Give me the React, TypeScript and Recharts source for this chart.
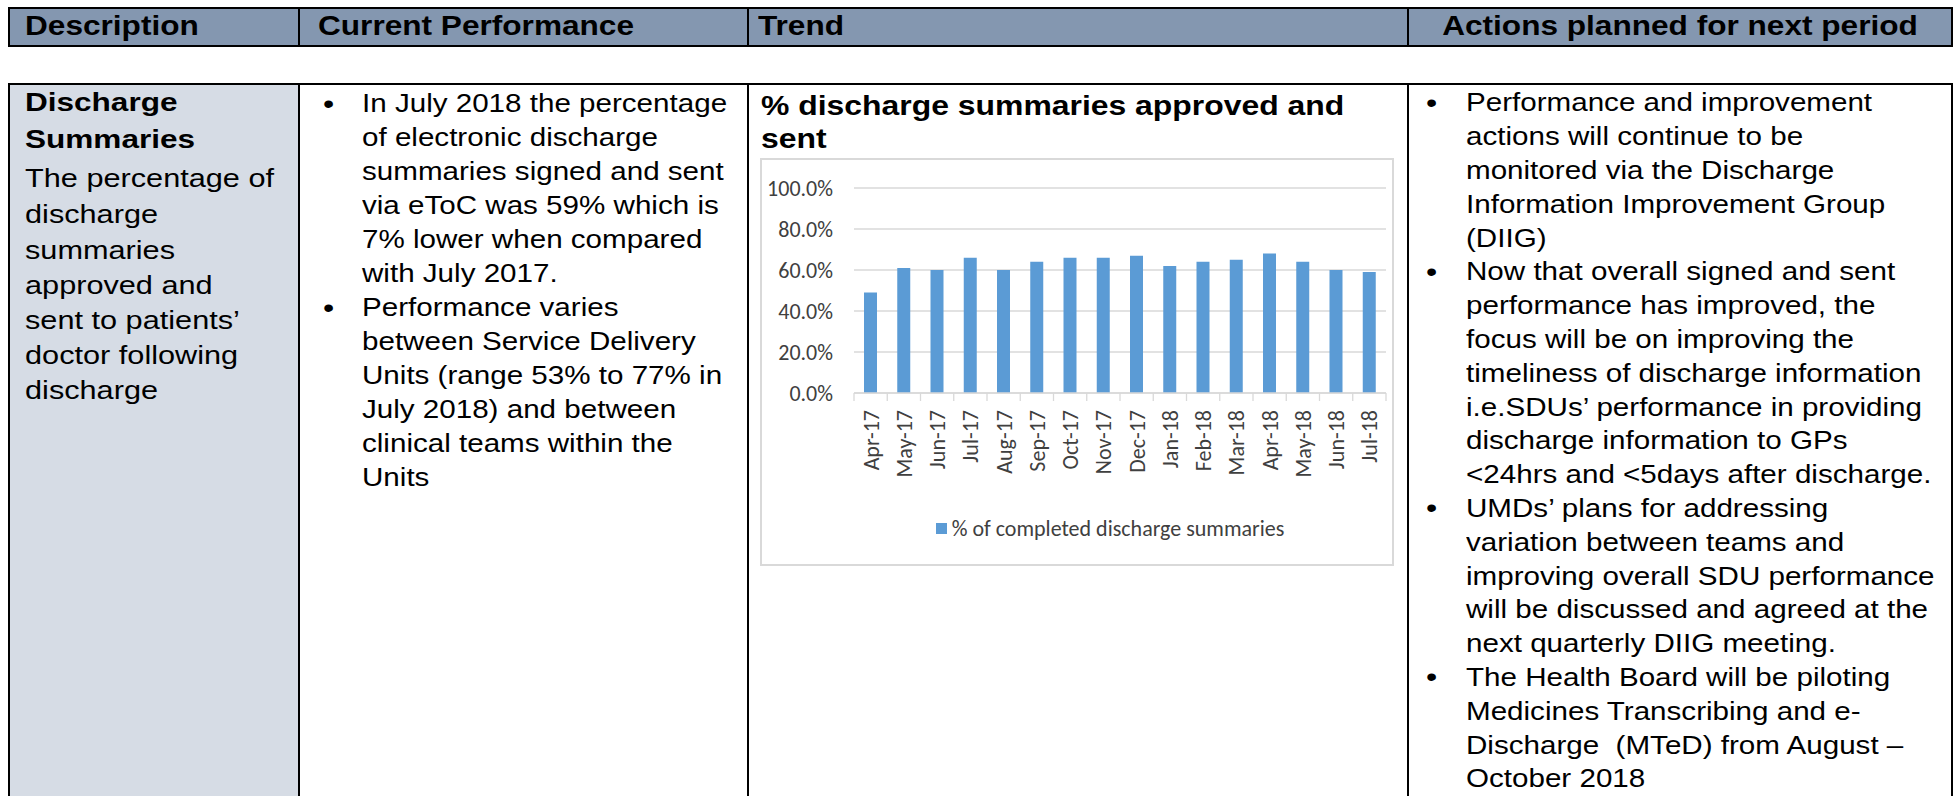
import { BarChart, Bar, XAxis, YAxis, CartesianGrid, Legend } from 'recharts'

// chart data
const months = [
  'Apr-17', 'May-17', 'Jun-17', 'Jul-17', 'Aug-17', 'Sep-17', 'Oct-17', 'Nov-17',
  'Dec-17', 'Jan-18', 'Feb-18', 'Mar-18', 'Apr-18', 'May-18', 'Jun-18', 'Jul-18',
]
const completedPct = [49, 61, 60, 66, 60, 64, 66, 66, 67, 62, 64, 65, 68, 64, 60, 59]
const yTicks = [0, 20, 40, 60, 80, 100]
const seriesName = '% of completed discharge summaries'
const chartTitle = ['% discharge summaries approved and', 'sent']

// table text
const headerLabels = ['Description', 'Current Performance', 'Trend', 'Actions planned for next period']
const descTitle = ['Discharge', 'Summaries']
const descLines = [
  'The percentage of', 'discharge', 'summaries', 'approved and',
  'sent to patients\u2019', 'doctor following', 'discharge',
]
const perfBullets = [
  ['In July 2018 the percentage', 'of electronic discharge', 'summaries signed and sent',
    'via eToC was 59% which is', '7% lower when compared', 'with July 2017.'],
  ['Performance varies', 'between Service Delivery', 'Units (range 53% to 77% in',
    'July 2018) and between', 'clinical teams within the', 'Units'],
]
const actionBullets = [
  ['Performance and improvement', 'actions will continue to be', 'monitored via the Discharge',
    'Information Improvement Group', '(DIIG)'],
  ['Now that overall signed and sent', 'performance has improved, the',
    'focus will be on improving the', 'timeliness of discharge information',
    'i.e.SDUs\u2019 performance in providing', 'discharge information to GPs',
    '<24hrs and <5days after discharge.'],
  ['UMDs\u2019 plans for addressing', 'variation between teams and',
    'improving overall SDU performance', 'will be discussed and agreed at the',
    'next quarterly DIIG meeting.'],
  ['The Health Board will be piloting', 'Medicines Transcribing and e-',
    'Discharge  (MTeD) from August \u2013', 'October 2018'],
]

const ARIAL = '"Liberation Sans", Arial, Helvetica, sans-serif'
const CHART_FONT = 'Calibri, Carlito, Lato, sans-serif'
const LINE_COLOR = '#000'
const HEADER_FILL = '#8497B0'
const DESC_FILL = '#D6DCE5'
const BAR_BLUE = '#5B9BD5'
const AXIS_GREY = '#D9D9D9'
const LABEL_GREY = '#404040'
const CHART_FS = 22

const CHART_W = 630
const CHART_H = 404
const Y_AXIS_W = 92
const MARGIN = { top: 28, right: 6, left: 0, bottom: 47 }
const band = (CHART_W - Y_AXIS_W - MARGIN.right - MARGIN.left) / months.length

const data = months.map((m, i) => ({ month: m, pct: completedPct[i] }))

type TxtProps = {
  x: number
  base: number
  size: number
  sx?: number
  bold?: boolean
  width?: number
  center?: boolean
  children: React.ReactNode
}

// one line of document text, placed by its baseline
const Txt = ({ x, base, size, sx = 1.16, bold, width, center, children }: TxtProps) => (
  <div
    style={{
      position: 'absolute',
      left: x,
      top: base - 0.847 * size,
      width,
      textAlign: center ? 'center' : 'left',
      fontFamily: ARIAL,
      fontSize: size,
      lineHeight: `${size}px`,
      fontWeight: bold ? 700 : 400,
      whiteSpace: 'pre',
      color: '#000',
      transform: `scaleX(${sx})`,
      transformOrigin: center ? 'center top' : 'left top',
    }}
  >
    {children}
  </div>
)

const Box = ({ l, t, w, h, bg }: { l: number; t: number; w: number; h: number; bg: string }) => (
  <div style={{ position: 'absolute', left: l, top: t, width: w, height: h, background: bg }} />
)

const BulletList = ({ items, bulletX, textX, firstBase, step, size }: {
  items: string[][]
  bulletX: number
  textX: number
  firstBase: number
  step: number
  size: number
}) => {
  const out: React.ReactNode[] = []
  let row = 0
  items.forEach((lines, bi) => {
    out.push(
      <Txt key={`b${bi}`} x={bulletX} base={firstBase + row * step} size={size + 2}>
        {'\u2022'}
      </Txt>
    )
    lines.forEach((ln, li) => {
      out.push(
        <Txt key={`l${bi}-${li}`} x={textX} base={firstBase + row * step} size={size}>
          {ln}
        </Txt>
      )
      row++
    })
  })
  return <>{out}</>
}

const MonthTick = (props: any) => {
  const { x, y, payload, index } = props
  return (
    <g transform={`translate(${x},${y})`}>
      <line x1={-band / 2} x2={-band / 2} y1={0} y2={8} stroke={AXIS_GREY} strokeWidth={1.3} />
      {index === months.length - 1 && (
        <line x1={band / 2} x2={band / 2} y1={0} y2={8} stroke={AXIS_GREY} strokeWidth={1.3} />
      )}
      <text
        transform="rotate(-90)"
        x={-17}
        y={0}
        dy="0.36em"
        textAnchor="end"
        fill={LABEL_GREY}
        fontSize={CHART_FS}
        fontFamily={CHART_FONT}
      >
        {payload.value}
      </text>
    </g>
  )
}

const LegendContent = () => (
  <div
    style={{
      display: 'flex',
      justifyContent: 'center',
      alignItems: 'center',
      height: 24,
      fontFamily: CHART_FONT,
      fontSize: CHART_FS,
      color: LABEL_GREY,
      whiteSpace: 'nowrap',
    }}
  >
    <span style={{ width: 11, height: 11, background: BAR_BLUE, marginRight: 5, display: 'inline-block' }} />
    {seriesName}
  </div>
)

const TrendChart = () => (
  <BarChart width={CHART_W} height={CHART_H} data={data} margin={MARGIN} barCategoryGap={0}>
    <CartesianGrid vertical={false} stroke={AXIS_GREY} strokeWidth={1.3} />
    <XAxis
      dataKey="month"
      interval={0}
      height={100}
      tickSize={0}
      tickMargin={0}
      tickLine={false}
      axisLine={{ stroke: AXIS_GREY, strokeWidth: 1.3 }}
      tick={<MonthTick />}
    />
    <YAxis
      width={Y_AXIS_W}
      domain={[0, 100]}
      ticks={yTicks}
      axisLine={false}
      tickLine={false}
      tickMargin={15}
      tickFormatter={(v: number) => `${v.toFixed(1)}%`}
      tick={{ fill: LABEL_GREY, fontSize: CHART_FS, fontFamily: CHART_FONT }}
    />
    <Legend
      content={<LegendContent />}
      wrapperStyle={{ bottom: 24, left: 98, width: 500 }}
    />
    <Bar dataKey="pct" name={seriesName} fill={BAR_BLUE} barSize={13} isAnimationActive={false} />
  </BarChart>
)

const App = () => {
  const colL = 8
  const colR = 1953
  const div1 = 298
  const div2 = 747
  const div3 = 1407
  const bw = 2
  const descBases = [111, 148, 187, 223, 259, 294, 329, 364, 399]

  return (
    <div
      style={{
        position: 'absolute',
        left: 0,
        top: 0,
        width: 1957,
        height: 796,
        overflow: 'hidden',
        background: '#fff',
      }}
    >
      {/* header row */}
      <Box l={colL} t={7} w={colR - colL} h={40} bg={LINE_COLOR} />
      <Box l={colL + bw} t={7 + bw} w={colR - colL - 2 * bw} h={40 - 2 * bw} bg={HEADER_FILL} />
      <Box l={div1} t={7} w={bw} h={40} bg={LINE_COLOR} />
      <Box l={div2} t={7} w={bw} h={40} bg={LINE_COLOR} />
      <Box l={div3} t={7} w={bw} h={40} bg={LINE_COLOR} />
      <Txt x={25} base={36} size={27} sx={1.17} bold>{headerLabels[0]}</Txt>
      <Txt x={318} base={36} size={27} sx={1.17} bold>{headerLabels[1]}</Txt>
      <Txt x={758} base={36} size={27} sx={1.17} bold>{headerLabels[2]}</Txt>
      <Txt x={div3} width={colR - div3} center base={36} size={27} sx={1.17} bold>
        {headerLabels[3]}
      </Txt>

      {/* body row */}
      <Box l={colL} t={83} w={colR - colL} h={bw} bg={LINE_COLOR} />
      <Box l={colL} t={83} w={bw} h={800} bg={LINE_COLOR} />
      <Box l={colL + bw} t={83 + bw} w={div1 - colL - bw} h={800} bg={DESC_FILL} />
      <Box l={div1} t={83} w={bw} h={800} bg={LINE_COLOR} />
      <Box l={div2} t={83} w={bw} h={800} bg={LINE_COLOR} />
      <Box l={div3} t={83} w={bw} h={800} bg={LINE_COLOR} />
      <Box l={colR - bw} t={83} w={bw} h={800} bg={LINE_COLOR} />

      {descTitle.map((t, i) => (
        <Txt key={t} x={25} base={descBases[i]} size={26.5} sx={1.19} bold>{t}</Txt>
      ))}
      {descLines.map((t, i) => (
        <Txt key={`d${i}`} x={25} base={descBases[i + 2]} size={26} sx={1.18}>{t}</Txt>
      ))}

      <BulletList items={perfBullets} bulletX={323} textX={362} firstBase={113} step={34} size={25.5} />
      <BulletList items={actionBullets} bulletX={1426} textX={1466} firstBase={112} step={33.8} size={25.5} />

      {chartTitle.map((t, i) => (
        <Txt key={t} x={761} base={115 + i * 33} size={27.5} sx={1.16} bold>{t}</Txt>
      ))}

      <div
        style={{
          position: 'absolute',
          left: 760,
          top: 158,
          width: CHART_W + 4,
          height: CHART_H + 4,
          boxSizing: 'border-box',
          border: `2px solid ${AXIS_GREY}`,
          background: '#fff',
        }}
      >
        <TrendChart />
      </div>
    </div>
  )
}

export default App
